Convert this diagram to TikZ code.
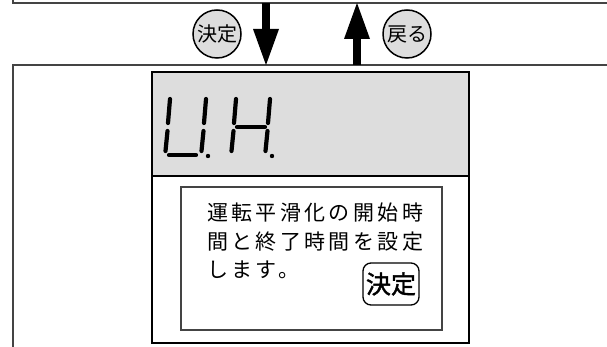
\documentclass[tikz,border=0pt]{standalone}
\usepackage{fontspec}
\usepackage{tikz}
\usetikzlibrary{arrows.meta,positioning}
\newfontfamily\jp{Noto Sans CJK JP}
\newfontfamily\jpbold[FakeBold=1.6]{Noto Sans CJK JP}
\newfontfamily\jpwide[LetterSpace=16]{Noto Sans CJK JP}
\definecolor{lcd}{HTML}{DDDDDD}
\definecolor{rahmen}{HTML}{444444}

\begin{document}
\begin{tikzpicture}[x=1pt,y=-1pt,
    panel/.style={draw=rahmen,line width=1.1pt},
    key/.style={circle,draw,line width=1.5pt,fill=lcd,minimum size=48pt,inner sep=0pt,font=\jp\fontsize{20}{20}\selectfont},
    seg/.style={line width=4.2pt,line cap=round},
    flow/.style={line width=8pt,-{Triangle[width=26pt,length=36pt,line width=0pt]}},
    msg/.style={anchor=west,inner sep=0pt,font=\jpwide\fontsize{21}{21}\selectfont},
  ]
  \useasboundingbox (0,0) rectangle (607,347);
  \clip (0,0) rectangle (607,347);
  % panels
  \draw[panel] (13,-20) rectangle (630,3);
  \draw[panel] (13,65) rectangle (630,370);
  % keys and arrows
  \coordinate (dtop) at (266,3);
  \coordinate (dbot) at (266,65);
  \coordinate (ubot) at (357,65);
  \coordinate (utop) at (357,3);
  \draw[flow] (dtop) -- (dbot);
  \draw[flow] (ubot) -- (utop);
  \node[key] (kdec) at (217,34) {決定};
  \node[key] (kback) at (407,34) {戻る};
  % display unit
  \fill[lcd] (152,72) rectangle (469,176);
  \draw[line width=2pt] (152,176) -- (469,176);
  \draw[line width=2.4pt] (152,72) rectangle (469,343);
  \draw[line width=1.2pt,draw=rahmen] (181,187) rectangle (442,330);
  % U.H.
  \draw[seg] (170,99) -- (168,123) (167.5,131) -- (165.5,151);
  \draw[seg] (169,155) -- (196,155);
  \draw[seg] (206,99) -- (204,123) (203.5,131) -- (201.5,151);
  \fill (208,156) circle (2.2pt);
  \draw[seg] (236,99) -- (234,123) (233.5,131) -- (231.5,151);
  \draw[seg] (237,127) -- (265,127);
  \draw[seg] (270,99) -- (268,123) (267.5,131) -- (265.5,151);
  \fill (272,156) circle (2.2pt);
  % message
  \node[msg] (l1) at (207,213) {運転平滑化の開始時};
  \node[msg] (l2) at (207,242) {間と終了時間を設定};
  \node[msg] (l3) at (207,270) {します。};
  \node[draw,rounded corners=8pt,line width=1.3pt,minimum width=56pt,minimum height=42pt,inner sep=0pt,
    font=\jpbold\fontsize{25}{25}\selectfont] (ok) at (391,284) {決定};
\end{tikzpicture}
\end{document}
